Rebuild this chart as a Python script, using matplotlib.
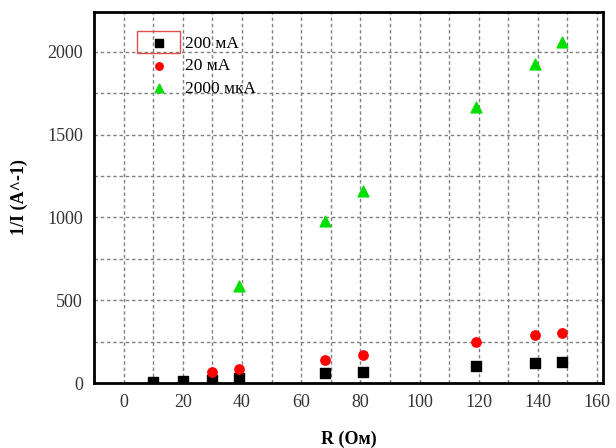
"""1/I versus R for three current ranges."""
import matplotlib.pyplot as plt
from matplotlib.patches import Rectangle
from matplotlib.ticker import MultipleLocator

plt.rcParams["font.family"] = ["Liberation Serif", "DejaVu Serif"]

# data
r_200ma = [10, 20, 30, 39, 68, 81, 119, 139, 148]
inv_200ma = [8, 12, 18, 30, 60, 68, 104, 118, 127]

r_20ma = [30, 39, 68, 81, 119, 139, 148]
inv_20ma = [65, 83, 140, 167, 245, 287, 303]

r_2000mka = [39, 68, 81, 119, 139, 148]
inv_2000mka = [588, 980, 1160, 1667, 1928, 2058]

fig = plt.figure(figsize=(6.16, 4.48), dpi=100)
ax = fig.add_axes([94 / 616, 65 / 448, 509 / 616, 371 / 448])

ax.scatter(r_200ma, inv_200ma, marker="s", s=45, color="black",
           label="200 мА", zorder=3)
ax.scatter(r_20ma, inv_20ma, marker="o", s=45, color="red",
           label="20 мА", zorder=3)
ax.scatter(r_2000mka, inv_2000mka, marker="^", s=60, color="#00e000",
           label="2000 мкА", zorder=3)

ax.set_xlim(-10, 162)
ax.set_ylim(0, 2240)
ax.xaxis.set_major_locator(MultipleLocator(20))
ax.xaxis.set_minor_locator(MultipleLocator(10))
ax.yaxis.set_major_locator(MultipleLocator(500))
ax.yaxis.set_minor_locator(MultipleLocator(250))
ax.grid(which="both", linestyle=(0, (2.5, 2)), color="#808080", linewidth=1)
ax.tick_params(which="both", length=0, labelsize=13, pad=8,
               colors="#333333")
for spine in ax.spines.values():
    spine.set_linewidth(2)

ax.set_xlabel("R (Ом)", fontsize=13, fontweight="bold", labelpad=14)
ax.set_ylabel("1/I (A^-1)", fontsize=13, fontweight="bold", labelpad=14)

leg = ax.legend(loc="upper left", bbox_to_anchor=(0.11, 0.937), frameon=False,
                fontsize=12.5, handletextpad=1.0, labelspacing=0.38,
                borderaxespad=0, borderpad=0, handlelength=1.0,
                markerscale=0.8)

# red selection box around the first legend marker
fig.patches.append(Rectangle((137 / 616, 1 - 53 / 448), 43 / 616, 22 / 448,
                             transform=fig.transFigure, fill=False,
                             edgecolor="#e05050", linewidth=1))

fig.savefig("out.png", dpi=100)
